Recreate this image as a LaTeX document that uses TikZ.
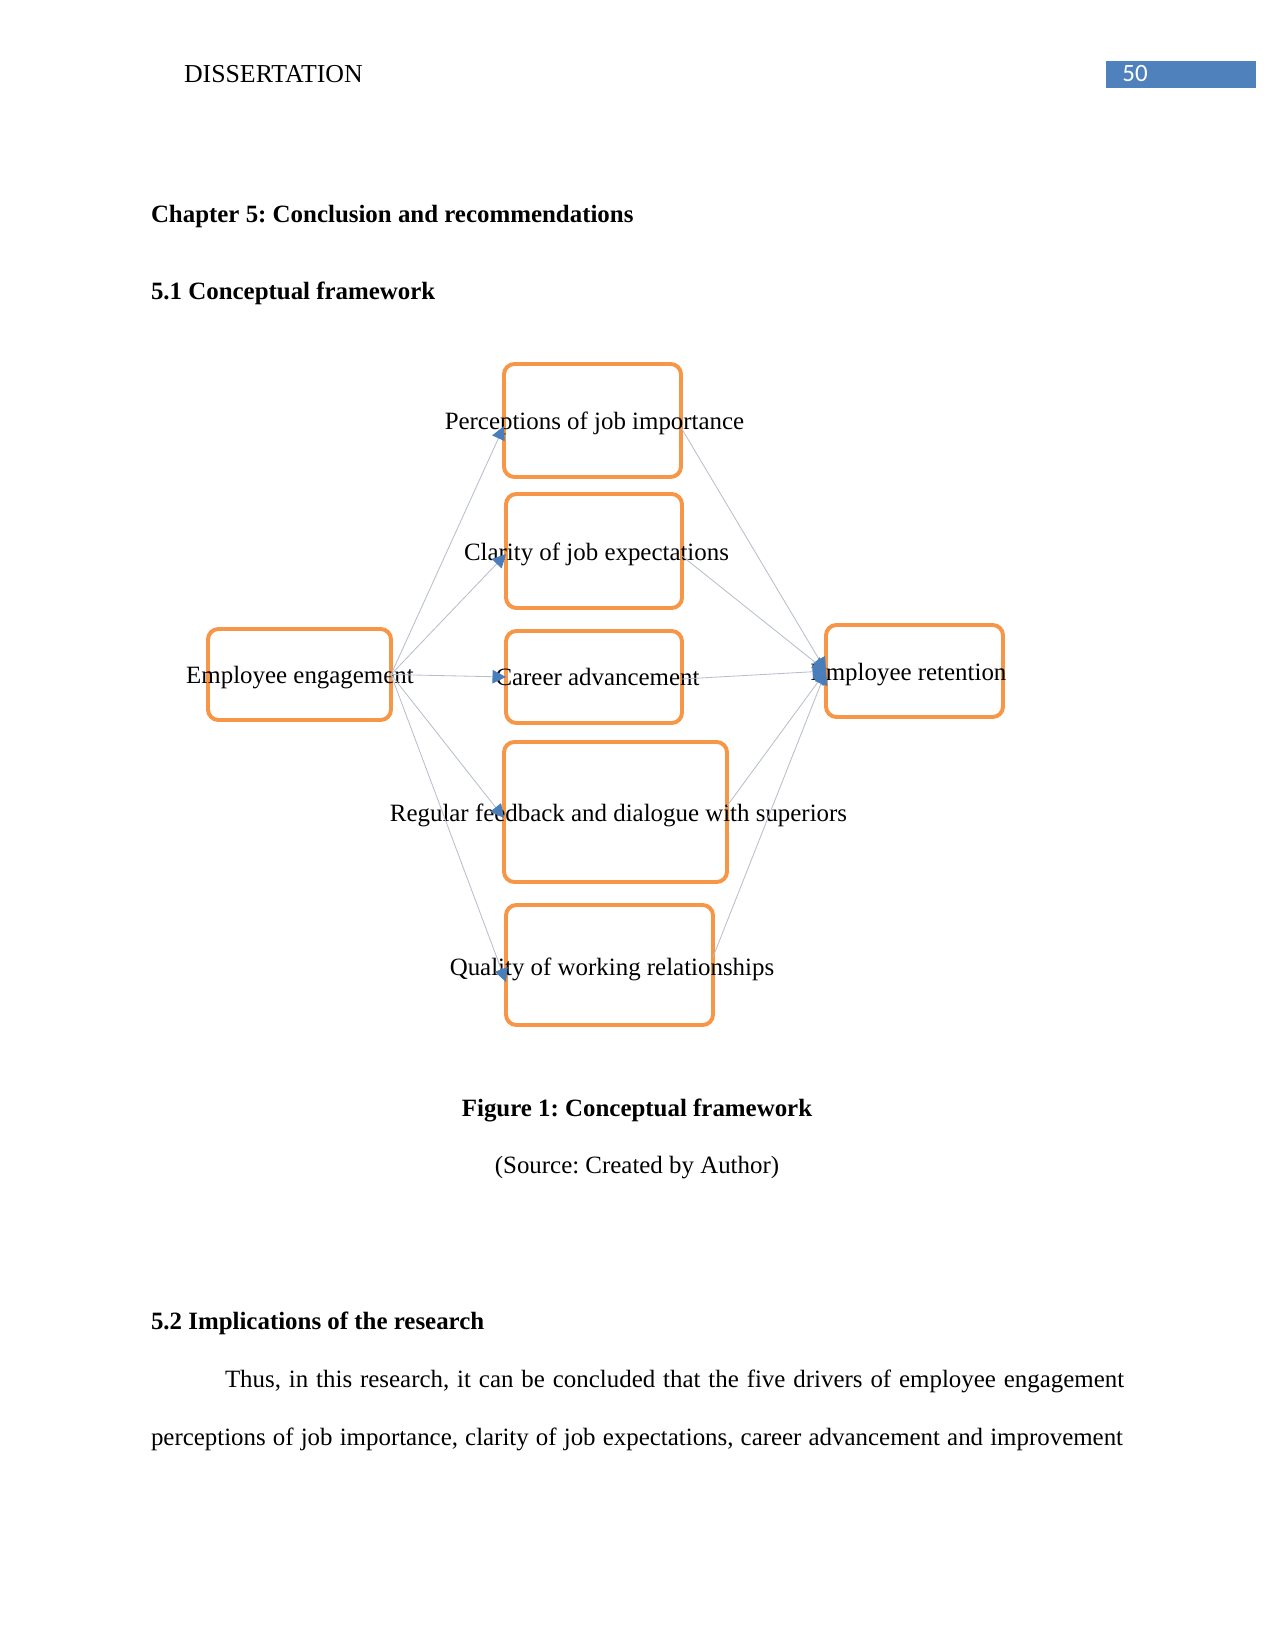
\documentclass[tikz,border=0pt]{standalone}
\usepackage{fontspec}
\setmainfont{Liberation Serif}
\newfontfamily\numfont{Carlito}
\usetikzlibrary{arrows.meta,calc}
\definecolor{boxorange}{HTML}{F79646}
\definecolor{tipblue}{HTML}{4A7EBB}
\definecolor{linegray}{HTML}{B8BECB}
\definecolor{hdrblue}{HTML}{4F81BD}
\frenchspacing
\begin{document}
\frenchspacing
\begin{tikzpicture}[x=0.4818pt,y=-0.4818pt,
  box/.style={draw=boxorange,line width=1.9pt,rounded corners=5pt,inner sep=0pt,outer sep=0pt},
  lbl/.style={font=\fontsize{12pt}{14pt}\selectfont,inner sep=0pt,outer sep=0pt,anchor=base},
  head/.style={font=\fontsize{12pt}{14pt}\selectfont\bfseries,inner sep=0pt,outer sep=0pt,anchor=base west},
  body/.style={font=\fontsize{12pt}{14pt}\selectfont,inner sep=0pt,outer sep=0pt,anchor=base west},
  conn/.style={draw=linegray,line width=0.4pt,-{Triangle[length=6.5pt,width=6.5pt,color=tipblue]}}]
\fill[white] (0,0) rectangle (1275,1650);
\path[use as bounding box] (0,0) rectangle (1275,1650);

% header
\node[body,font=\fontsize{12.45pt}{14pt}\selectfont] (hdr) at (184,83) {DISSERTATION};
\fill[hdrblue] (1106,61) rectangle (1256,88);
\node[inner sep=0pt,anchor=base west,text=white,font=\numfont\fontsize{12pt}{14pt}\selectfont] (pg) at (1122,82) {50};

% headings
\node[head] (ch) at (151,223) {Chapter 5: Conclusion and recommendations};
\node[head] (s51) at (151,300) {5.1 Conceptual framework};

% boxes
\node[box,minimum width={177*0.4818pt},minimum height={113*0.4818pt}] (perc) at (592.5,420.5) {};
\node[box,minimum width={176*0.4818pt},minimum height={114*0.4818pt}] (clar) at (594,551) {};
\node[box,minimum width={176*0.4818pt},minimum height={92*0.4818pt}] (car) at (594,677) {};
\node[box,minimum width={223*0.4818pt},minimum height={140*0.4818pt}] (feed) at (615.5,812) {};
\node[box,minimum width={207*0.4818pt},minimum height={120*0.4818pt}] (qual) at (609.5,965) {};
\node[box,minimum width={183*0.4818pt},minimum height={91*0.4818pt}] (emp) at (299.5,674.5) {};
\node[box,minimum width={177*0.4818pt},minimum height={92*0.4818pt}] (ret) at (914.5,671) {};

% labels
\node[lbl] (perc-t) at (594.5,430) {Perceptions of job importance};
\node[lbl] (clar-t) at (596.5,560) {Clarity of job expectations};
\node[lbl] (car-t) at (597.5,685) {Career advancement};
\node[lbl] (feed-t) at (618.5,821) {Regular feedback and dialogue with superiors};
\node[lbl] (qual-t) at (612,975) {Quality of working relationships};
\node[lbl] (emp-t) at (300,683) {Employee engagement};
\node[lbl] (ret-t) at (908.5,680) {Employee retention};

% connectors from engagement to drivers
\draw[conn] (emp.east) -- ($(perc.west)+(0,5.5)$);
\draw[conn] (emp.east) -- ($(clar.west)+(0,3)$);
\draw[conn] (emp.east) -- (car.west);
\draw[conn] (emp.east) -- ($(feed.west)+(0,6)$);
\draw[conn] (emp.east) -- ($(qual.west)+(0,17)$);

% connectors from drivers to retention
\draw[conn] ($(perc.east)+(0,7)$) -- (ret.west);
\draw[conn] ($(clar.east)+(0,5)$) -- (ret.west);
\draw[conn] ($(car.east)+(0,2)$) -- (ret.west);
\draw[conn] ($(feed.east)+(0,-6)$) -- (ret.west);
\draw[conn] ($(qual.east)+(0,-8)$) -- (ret.west);

% caption
\node[lbl,font=\fontsize{12pt}{14pt}\selectfont\bfseries] (cap) at (637,1116) {Figure 1: Conceptual framework};
\node[lbl] (src) at (637,1173) {(Source: Created by Author)};

% section 5.2
\node[head] (s52) at (151,1329) {5.2 Implications of the research};
\node[body] (p1) at (225,1387) {\makebox[433.2pt][s]{Thus, in this research, it can be concluded that the five drivers of employee engagement}};
\node[body] (p2) at (151,1445) {\makebox[468.3pt][s]{perceptions of job importance, clarity of job expectations, career advancement and improvement}};
\end{tikzpicture}
\end{document}
